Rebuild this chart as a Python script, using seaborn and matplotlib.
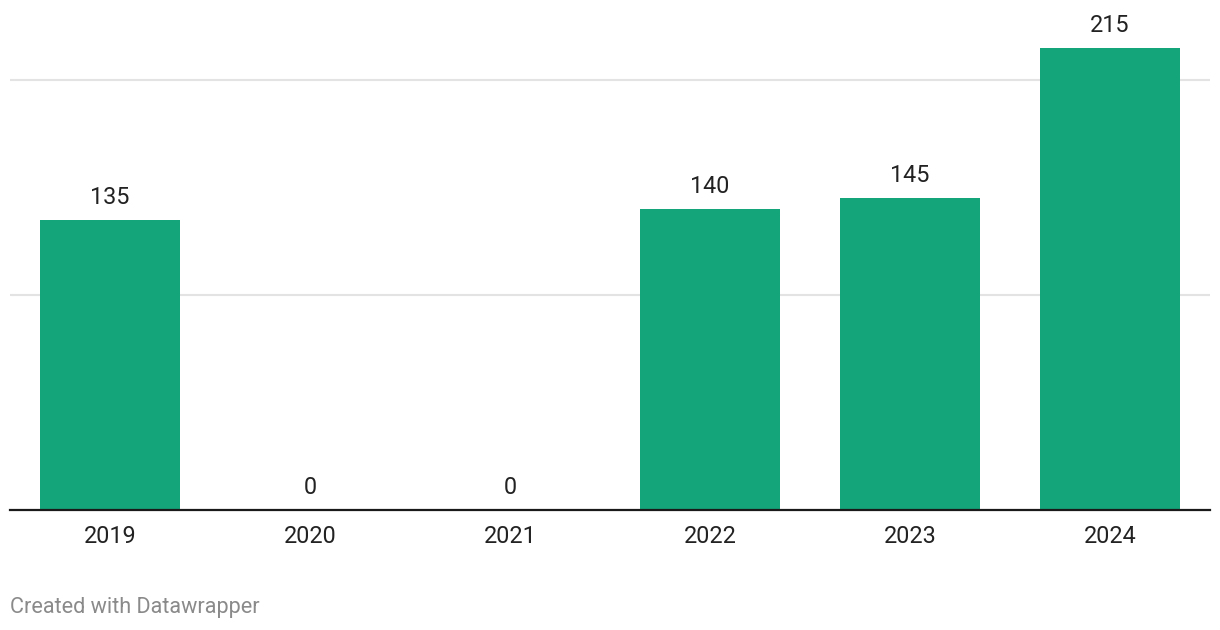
import matplotlib
matplotlib.use("Agg")
import matplotlib.pyplot as plt
import seaborn as sns
import pandas as pd

years = ["2019", "2020", "2021", "2022", "2023", "2024"]
values = [135, 0, 0, 140, 145, 215]
gridlines = [100, 200]

sns.set_theme(style="white")
plt.rcParams['font.family'] = ['Roboto', 'DejaVu Sans']

df = pd.DataFrame({"year": years, "value": values})

fig = plt.figure(figsize=(12.2, 6.3), dpi=100)
ax = fig.add_axes([10/1220, 1 - 510/630, 1200/1220, 510/630])

sns.barplot(data=df, x="year", y="value", color="#14a57b", width=0.7,
            saturation=1, linewidth=0, ax=ax, zorder=3)

ax.set_xlim(-0.5, len(years) - 0.5)
ax.set_ylim(0, 510 / (462 / 215))
for g in gridlines:
    ax.axhline(g, color="#e3e3e3", lw=1.5, zorder=1)

for i, v in enumerate(values):
    ax.annotate(f"{v}", (i, v), xytext=(0, 11), textcoords="offset pixels",
                ha="center", va="bottom", fontsize=16.8, color="#222222")

for s in ["top", "right", "left"]:
    ax.spines[s].set_visible(False)
ax.spines["bottom"].set_color("#1a1a1a")
ax.spines["bottom"].set_linewidth(1.6)
ax.spines["bottom"].set_zorder(4)
ax.set_yticks([])
ax.set_xlabel("")
ax.set_ylabel("")
ax.tick_params(axis="x", length=0, pad=11, labelsize=16.8, labelcolor="#222222")

fig.text(10/1220, 1 - 608/630, "Created with Datawrapper", ha="left", va="center",
         fontsize=15.6, color="#8a8a8a")

fig.savefig("out.png", dpi=100)
